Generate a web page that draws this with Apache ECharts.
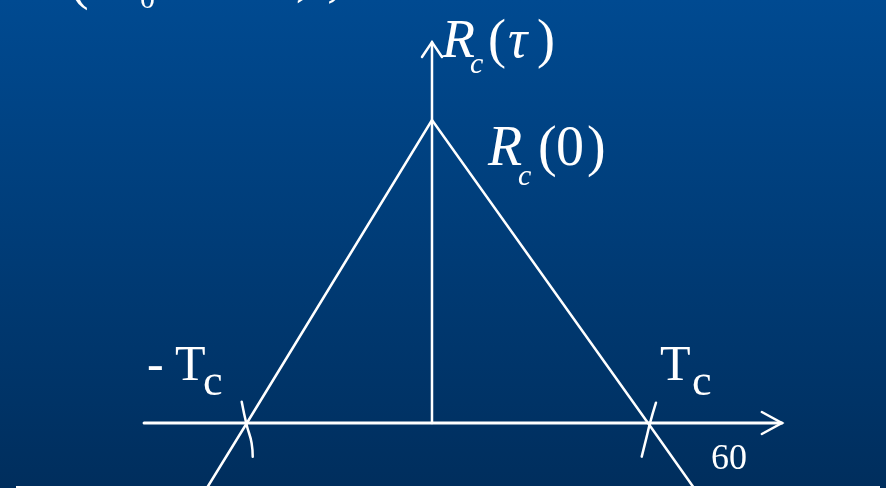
<!DOCTYPE html>
<html>
<head>
<meta charset="utf-8">
<script src="https://cdn.jsdelivr.net/npm/echarts@6/dist/echarts.min.js"></script>
<style>
  html, body { margin: 0; padding: 0; }
  #chart { width: 886px; height: 488px; }
</style>
</head>
<body>
<div id="chart"></div>
<script>
// tau in units of Tc, R in units of Rc(0)
const triangleTau = [-1.042, -0.857, 0, 1.0, 1.213];
const triangleR = [-0.2145, 0, 1, 0, -0.2145];

const tauAxisTau = [-1.333, 1.62];
const tauAxisR = [0, 0];
const tauArrowTau = [1.527, 1.62, 1.527];
const tauArrowR = [0.0363, 0, -0.0363];

const rAxisTau = [0, 0];
const rAxisR = [0, 1.257];
const rArrowTau = [-0.0463, 0, 0.0463];
const rArrowR = [1.208, 1.257, 1.208];

const leftTickTau = [-0.881, -0.858, -0.835, -0.830];
const leftTickR = [0.0703, -0.0066, -0.067, -0.111];
const rightTickTau = [1.037, 1.009, 0.994, 0.971];
const rightTickR = [0.067, -0.001, -0.045, -0.111];

const pageNumber = '60';

const zip = (xs, ys) => xs.map((x, i) => [x, ys[i]]);

const chart = echarts.init(document.getElementById('chart'), null, { renderer: 'canvas' });

function label(text, x, baseline, size, italic) {
    return {
        type: 'text',
        z: 10,
        style: {
            text: text,
            x: x,
            y: baseline - 0.34 * size,
            fontFamily: 'Liberation Serif',
            fontSize: size,
            fontStyle: italic ? 'italic' : 'normal',
            fill: '#ffffff',
            align: 'left',
            verticalAlign: 'middle'
        }
    };
}

function whiteLine(name, data, width, smooth) {
    return {
        name: name,
        type: 'line',
        data: data,
        showSymbol: false,
        symbol: 'none',
        smooth: smooth || false,
        silent: true,
        animation: false,
        lineStyle: { color: '#ffffff', width: width, cap: 'round', join: 'miter' }
    };
}

chart.setOption({
    animation: false,
    backgroundColor: new echarts.graphic.LinearGradient(0, 0, 0, 1, [
        { offset: 0, color: '#004a91' },
        { offset: 1, color: '#002e5d' }
    ]),
    grid: { left: 0, right: 0, top: 0, bottom: 0, containLabel: false },
    xAxis: { type: 'value', min: -2, max: 2.1019, show: false },
    yAxis: { type: 'value', min: -0.2145, max: 1.396, show: false },
    series: [
        whiteLine('triangle', zip(triangleTau, triangleR), 2.5),
        whiteLine('tauAxis', zip(tauAxisTau, tauAxisR), 3),
        whiteLine('tauArrow', zip(tauArrowTau, tauArrowR), 2.5),
        whiteLine('rAxis', zip(rAxisTau, rAxisR), 2.5),
        whiteLine('rArrow', zip(rArrowTau, rArrowR), 2.5),
        whiteLine('leftTick', zip(leftTickTau, leftTickR), 2.5, true),
        whiteLine('rightTick', zip(rightTickTau, rightTickR), 2.5, true)
    ],
    graphic: [
        // Rc(tau)
        label('R', 442, 61, 54, true),
        label('c', 470, 75, 30, true),
        label('(', 488, 61, 54, false),
        label('τ', 508, 61, 54, true),
        label(')', 537, 61, 54, false),
        // Rc(0)
        label('R', 488, 169, 56, true),
        label('c', 518, 187, 30, true),
        label('(', 538, 169, 56, false),
        label('0', 556, 169, 56, false),
        label(')', 587, 169, 56, false),
        // -Tc
        label('-', 147, 384, 50, false),
        label('T', 175, 384, 50, false),
        label('c', 203, 398, 44, false),
        // Tc
        label('T', 660, 384, 50, false),
        label('c', 692, 398, 44, false),
        // page number
        label(pageNumber, 711, 472, 36, false),
        // cut-off text at the top
        label('(', 70, 2, 56, false),
        label('0', 140, 10, 30, false),
        label(')', 296, -5, 56, false),
        label(',', 327, -1, 56, false),
        {
            type: 'rect',
            z: 20,
            shape: { x: 16, y: 486, width: 864, height: 4 },
            style: { fill: '#ffffff' }
        }
    ]
});
</script>
</body>
</html>
